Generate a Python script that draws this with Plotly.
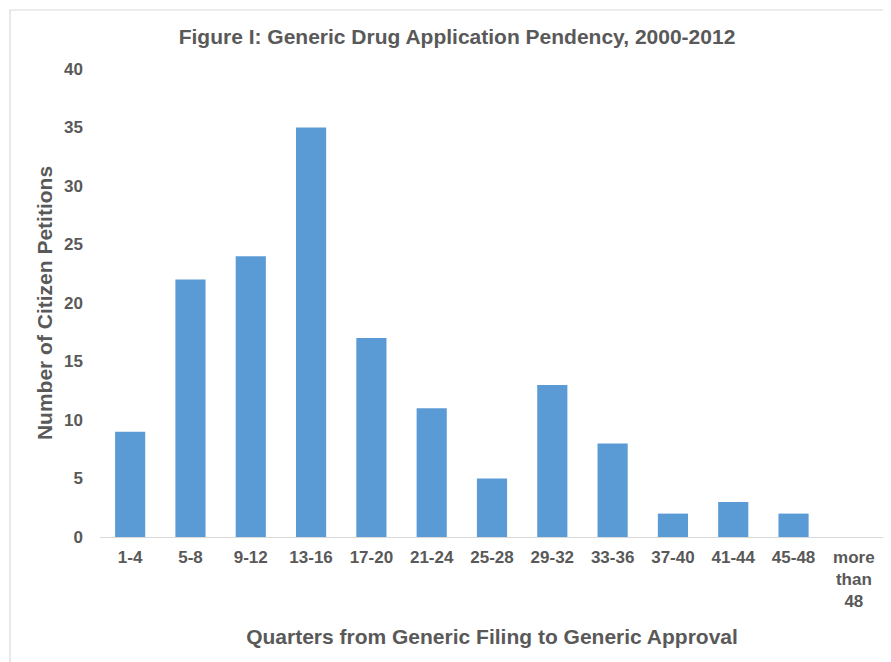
import plotly.graph_objects as go

categories = ["1-4", "5-8", "9-12", "13-16", "17-20", "21-24", "25-28", "29-32",
              "33-36", "37-40", "41-44", "45-48", "more<br>than<br>48"]
petitions = [9, 22, 24, 35, 17, 11, 5, 13, 8, 2, 3, 2, 0]

W, H = 891, 662
off = 8  # page body margin
ml, mr, mt, mb = 92, 15, 61, 133
pw, ph = W - ml - mr, H - mt - mb
grey = "#595959"
font = "Liberation Sans, Arial, sans-serif"

fig = go.Figure(go.Bar(x=categories, y=petitions, marker_color="#5b9bd5",
                       marker_line_width=0, width=0.5))

def px2paper_x(p):
    return (p - off - ml) / pw

def px2paper_y(p):
    return (H - mb - (p - off)) / ph

fig.update_layout(
    width=W, height=H,
    margin=dict(l=ml, r=mr, t=mt, b=mb),
    paper_bgcolor="white", plot_bgcolor="white",
    font=dict(family=font, color=grey),
    title=dict(text="<b>Figure I: Generic Drug Application Pendency, 2000-2012</b>",
               x=px2paper_x(457), xref="paper", xanchor="center",
               y=1 - (37 - off) / H, yanchor="middle",
               font=dict(size=21, color=grey, family=font)),
    showlegend=False,
    xaxis=dict(showgrid=False, showline=True, linecolor="#d9d9d9", linewidth=1.2,
               ticks="", tickfont=dict(size=17, color=grey, family=font),
               ticklabelstandoff=4,
               title=dict(text="<b>Quarters from Generic Filing to Generic Approval</b>",
                          font=dict(size=21, color=grey, family=font), standoff=19),
               tickprefix="<b>", ticksuffix="</b>"),
    yaxis=dict(range=[0, 40], dtick=5, showgrid=False, showline=False, zeroline=False,
               ticks="", tickfont=dict(size=17, color=grey, family=font),
               tickprefix="<b>", ticksuffix="</b>", ticklabelstandoff=16,
               title=dict(text="<b>Number of Citizen Petitions</b>",
                          font=dict(size=21, color=grey, family=font), standoff=5)),
    shapes=[dict(type="rect", xref="paper", yref="paper",
                 x0=px2paper_x(10), x1=px2paper_x(W + 20),
                 y0=px2paper_y(H + 20), y1=px2paper_y(10),
                 line=dict(color="#d9d9d9", width=1.2), fillcolor="rgba(0,0,0,0)",
                 layer="below")],
)

fig.write_html("out.html")
